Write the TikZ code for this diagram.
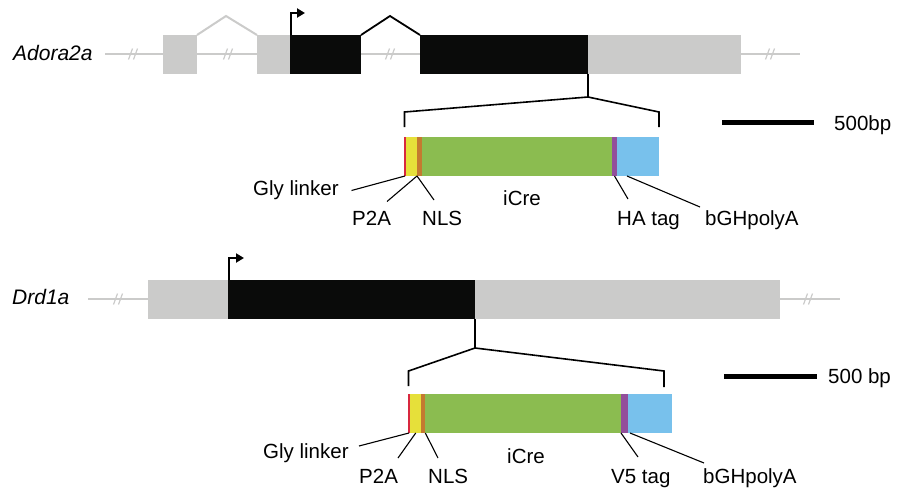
\documentclass[tikz,border=0pt]{standalone}
\usepackage{fontspec}
\setmainfont{Liberation Sans}
\usetikzlibrary{arrows.meta}
\definecolor{exgray}{HTML}{CBCBCA}
\definecolor{exblack}{HTML}{0A0B0A}
\definecolor{cred}{HTML}{D8283F}
\definecolor{cyellow}{HTML}{E6E03A}
\definecolor{corange}{HTML}{C47A30}
\definecolor{cgreen}{HTML}{8BBC50}
\definecolor{cpurple}{HTML}{934F9B}
\definecolor{cblue}{HTML}{78C1EC}
\begin{document}
\begin{tikzpicture}[x=1pt,y=-1pt,
  seg/.style={inner sep=0pt,outer sep=0pt,draw=none,anchor=north west,minimum height=39pt},
  gline/.style={draw=exgray,line width=2pt},
  bline/.style={draw=black,line width=1.8pt},
  lead/.style={draw=black,line width=1.1pt},
  lbl/.style={inner sep=0pt,anchor=base west,font=\fontsize{20.5pt}{24pt}\selectfont},
  glbl/.style={inner sep=0pt,anchor=base west,font=\fontsize{21pt}{24pt}\selectfont\itshape},
  tss/.style={draw=black,line width=2pt,-{Triangle[length=8pt,width=9pt]}},
  sbar/.style={draw=black,line width=5pt},
  brk/.pic={\draw[exgray,line width=1.2pt] (-4.5,5.5)--(-0.5,-5.5) (0.5,5.5)--(4.5,-5.5);}
]
\useasboundingbox (0,0) rectangle (901,490);

% ---------------- Adora2a ----------------
\node[glbl] (nA) at (13,60) {Adora2a};
\coordinate (lA0) at (105,54);
\coordinate (lA1) at (800,54);
\draw[gline] (lA0) -- (lA1);
\pic at (133,54) {brk};
\pic at (228,54) {brk};
\pic at (390,54) {brk};
\pic at (770,54) {brk};

\node[seg,fill=exgray,minimum width=34pt] (a1) at (163,35) {};
\node[seg,fill=exgray,minimum width=33pt] (a2) at (257,35) {};
\node[seg,fill=exblack,minimum width=71pt] (a3) at (290,35) {};
\node[seg,fill=exblack,minimum width=168pt] (a4) at (420,35) {};
\node[seg,fill=exgray,minimum width=153pt] (a5) at (588,35) {};

\coordinate (pA1) at (226,16);
\coordinate (pA2) at (390,16);
\draw[gline] (a1.north east) -- (pA1) -- (a2.north west);
\draw[bline] (a3.north east) -- (pA2) -- (a4.north west);
\coordinate (tA) at (305,13);
\draw[tss] ([xshift=0.5pt]a3.north west) |- (tA);

% bracket
\coordinate (bA) at (588,97);
\coordinate (bAl) at (404.5,112);
\coordinate (bAr) at (659,112);
\coordinate (bAle) at (404.5,127);
\coordinate (bAre) at (659,127);
\draw[bline,line width=1.6pt] (a4.south east) -- (bA);
\draw[bline,line width=1.6pt] (bAle) -- (bAl) -- (bA) -- (bAr) -- (bAre);

% insert
\node[seg,fill=cred,minimum width=2pt] (rA) at (404,137) {};
\node[seg,fill=cyellow,minimum width=11pt] (yA) at (406,137) {};
\node[seg,fill=corange,minimum width=4.5pt] (oA) at (417,137) {};
\node[seg,fill=cgreen,minimum width=190.5pt] (gA) at (421.5,137) {};
\node[seg,fill=cpurple,minimum width=5pt] (uA) at (612,137) {};
\node[seg,fill=cblue,minimum width=42pt] (cA) at (617,137) {};

% labels
\node[lbl] (glyA) at (253,195) {Gly linker};
\node[lbl] (p2aA) at (352,225) {P2A};
\node[lbl] (nlsA) at (422,225) {NLS};
\node[lbl] (icreA) at (503,205) {iCre};
\node[lbl] (haA) at (617,225) {HA tag};
\node[lbl] (bghA) at (705,225) {bGHpolyA};
\coordinate (l1a) at (351.5,190.5);
\coordinate (l2a) at (387,201.5);
\coordinate (l3a) at (434,200);
\coordinate (l4a) at (628,199);
\coordinate (l5a) at (700,207);
\draw[lead] (l1a) -- (rA.south);
\draw[lead] (l2a) -- (yA.south east);
\draw[lead] (l3a) -- (oA.south west);
\draw[lead] (l4a) -- (uA.south);
\draw[lead] (l5a) -- ([xshift=-11pt]cA.south);

% scale bar
\coordinate (sA0) at (722,122);
\coordinate (sA1) at (814,122);
\draw[sbar] (sA0) -- (sA1);
\node[lbl] (sAt) at (834,130) {500bp};

% ---------------- Drd1a ----------------
\node[glbl] (nD) at (12,304) {Drd1a};
\coordinate (lD0) at (88,299);
\coordinate (lD1) at (840,299);
\draw[gline] (lD0) -- (lD1);
\pic at (118,299) {brk};
\pic at (808,299) {brk};

\node[seg,fill=exgray,minimum width=80pt] (d1) at (148,280) {};
\node[seg,fill=exblack,minimum width=247pt] (d2) at (228,280) {};
\node[seg,fill=exgray,minimum width=305pt] (d3) at (475,280) {};
\coordinate (tD) at (244,258);
\draw[tss] ([xshift=0.5pt]d2.north west) |- (tD);

% bracket
\coordinate (bD) at (475,348);
\coordinate (bDl) at (408.5,371);
\coordinate (bDr) at (664,371);
\coordinate (bDle) at (408.5,386);
\coordinate (bDre) at (664,387);
\draw[bline,line width=1.6pt] (d2.south east) -- (bD);
\draw[bline,line width=1.6pt] (bDle) -- (bDl) -- (bD) -- (bDr) -- (bDre);

% insert
\node[seg,fill=cred,minimum width=2pt] (rD) at (408,394) {};
\node[seg,fill=cyellow,minimum width=10.7pt] (yD) at (410,394) {};
\node[seg,fill=corange,minimum width=4.6pt] (oD) at (420.7,394) {};
\node[seg,fill=cgreen,minimum width=195.7pt] (gD) at (425.3,394) {};
\node[seg,fill=cpurple,minimum width=7pt] (uD) at (621,394) {};
\node[seg,fill=cblue,minimum width=44pt] (cD) at (628,394) {};

% labels
\node[lbl] (glyD) at (263,458) {Gly linker};
\node[lbl] (p2aD) at (359,483) {P2A};
\node[lbl] (nlsD) at (428,483) {NLS};
\node[lbl] (icreD) at (507,463) {iCre};
\node[lbl] (v5D) at (611,483) {V5 tag};
\node[lbl] (bghD) at (703,483) {bGHpolyA};
\coordinate (l1d) at (359,446);
\coordinate (l2d) at (398,458);
\coordinate (l3d) at (438,458);
\coordinate (l4d) at (638,457);
\coordinate (l5d) at (704,463);
\draw[lead] (l1d) -- (rD.south);
\draw[lead] (l2d) -- ([xshift=-5pt]yD.south east);
\draw[lead] (l3d) -- (oD.south east);
\draw[lead] (l4d) -- (uD.south west);
\draw[lead] (l5d) -- ([xshift=2pt]cD.south west |- cD.south);

% scale bar
\coordinate (sD0) at (724,376);
\coordinate (sD1) at (817,376);
\draw[sbar] (sD0) -- (sD1);
\node[lbl] (sDt) at (828,383) {500 bp};
\end{tikzpicture}
\end{document}
